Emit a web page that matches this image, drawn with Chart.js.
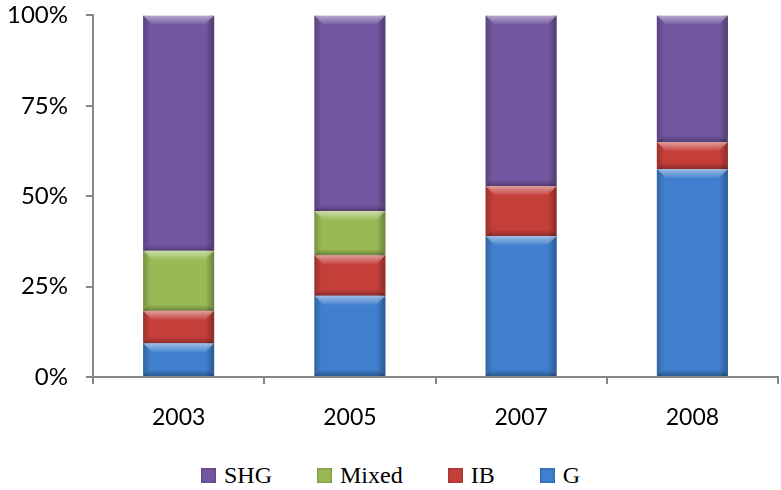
<!DOCTYPE html>
<html>
<head>
<meta charset="utf-8">
<script src="https://cdn.jsdelivr.net/npm/chart.js@4"></script>
<style>
  html, body { margin: 0; padding: 0; background: #fff; overflow: hidden; }
  #wrap { position: relative; width: 781px; height: 490px; overflow: hidden; }
  #box { position: absolute; left: 0; top: -17px; width: 781px; height: 457px; }
  #legend {
    position: absolute; left: 0; top: 462px; width: 781px; height: 26px;
    display: flex; justify-content: center; align-items: center; gap: 45px;
    font-family: "Liberation Serif", serif; font-size: 24px; color: #000;
  }
  #legend .item { display: flex; align-items: center; }
  #legend .sw { width: 15px; height: 15px; margin-right: 8px; box-shadow: inset 0 0 3px rgba(0,0,0,0.35); }
</style>
</head>
<body>
<div id="wrap">
  <div id="box"><canvas id="chart"></canvas></div>
  <div id="legend"></div>
</div>
<script>
const categories = ['2003', '2005', '2007', '2008'];
const gValues = [9.3, 22.5, 39.0, 57.5];
const ibValues = [9.0, 11.2, 13.8, 7.5];
const mixedValues = [16.6, 12.2, 0, 0];
const shgValues = [65.1, 54.1, 47.2, 35.0];
const yTicks = [0, 25, 50, 75, 100];

const axisGrey = '#868686';

// flat fill colours, the bevel is painted on top by the plugin below
const seriesColors = {
    G: '#3F7FCD',
    IB: '#C43E3A',
    Mixed: '#98B954',
    SHG: '#7256A0'
};

// give every bar segment a soft bevel like an office chart
const bevel = {
    id: 'bevel',
    afterDatasetsDraw(chart) {
        const ctx = chart.ctx;
        chart.data.datasets.forEach((ds, i) => {
            const meta = chart.getDatasetMeta(i);
            if (meta.hidden) return;
            meta.data.forEach(bar => {
                const p = bar.getProps(['x', 'y', 'base', 'width'], true);
                const left = p.x - p.width / 2;
                const right = p.x + p.width / 2;
                const top = Math.min(p.y, p.base);
                const bottom = Math.max(p.y, p.base);
                const h = bottom - top;
                if (h < 1) return;
                const b = Math.min(9, h / 3);
                ctx.save();

                let g = ctx.createLinearGradient(left, 0, right, 0);
                g.addColorStop(0, 'rgba(0,0,0,0.22)');
                g.addColorStop(0.1, 'rgba(0,0,0,0)');
                g.addColorStop(0.88, 'rgba(0,0,0,0)');
                g.addColorStop(1, 'rgba(0,0,0,0.3)');
                ctx.fillStyle = g;
                ctx.fillRect(left, top, p.width, h);

                g = ctx.createLinearGradient(0, top, 0, top + b);
                g.addColorStop(0, 'rgba(255,255,255,0.5)');
                g.addColorStop(1, 'rgba(255,255,255,0.05)');
                ctx.fillStyle = g;
                ctx.beginPath();
                ctx.moveTo(left, top);
                ctx.lineTo(right, top);
                ctx.lineTo(right - b, top + b);
                ctx.lineTo(left + b, top + b);
                ctx.closePath();
                ctx.fill();

                g = ctx.createLinearGradient(0, bottom - b * 0.7, 0, bottom);
                g.addColorStop(0, 'rgba(0,0,0,0)');
                g.addColorStop(1, 'rgba(0,0,0,0.28)');
                ctx.fillStyle = g;
                ctx.beginPath();
                ctx.moveTo(left, bottom);
                ctx.lineTo(right, bottom);
                ctx.lineTo(right - b * 0.7, bottom - b * 0.7);
                ctx.lineTo(left + b * 0.7, bottom - b * 0.7);
                ctx.closePath();
                ctx.fill();

                ctx.restore();
            });
        });
    }
};

function makeSet(label, values) {
    return {
        label: label,
        data: values,
        backgroundColor: seriesColors[label],
        borderWidth: 0,
        categoryPercentage: 1,
        barPercentage: 0.415
    };
}

const chart = new Chart(document.getElementById('chart'), {
    type: 'bar',
    data: {
        labels: categories,
        datasets: [
            makeSet('G', gValues),
            makeSet('IB', ibValues),
            makeSet('Mixed', mixedValues),
            makeSet('SHG', shgValues)
        ]
    },
    options: {
        responsive: true,
        maintainAspectRatio: false,
        animation: false,
        layout: { padding: { top: 0, right: 3, bottom: 0, left: 0 } },
        plugins: {
            legend: { display: false },
            tooltip: { enabled: false }
        },
        scales: {
            x: {
                stacked: true,
                border: { color: axisGrey, width: 2 },
                grid: { color: axisGrey, lineWidth: 2, drawOnChartArea: false, tickLength: 7 },
                ticks: { color: '#000', padding: 20, font: { family: 'Lato', size: 23 } },
                afterFit: s => { s.height = 63; }
            },
            y: {
                stacked: true,
                min: 0,
                max: 100,
                border: { color: axisGrey, width: 2 },
                grid: { color: axisGrey, lineWidth: 2, drawOnChartArea: false, tickLength: 7 },
                afterBuildTicks: s => { s.ticks = yTicks.map(v => ({ value: v })); },
                ticks: {
                    color: '#000',
                    padding: 18,
                    font: { family: 'Lato', size: 24 },
                    callback: v => v + '%'
                },
                afterFit: s => { s.width = 93; }
            }
        }
    },
    plugins: [bevel]
});

// legend below the chart, series listed top of stack first
const legend = document.getElementById('legend');
chart.data.datasets.slice().reverse().forEach(ds => {
    const item = document.createElement('div');
    item.className = 'item';
    const sw = document.createElement('span');
    sw.className = 'sw';
    sw.style.background = ds.backgroundColor;
    const txt = document.createElement('span');
    txt.textContent = ds.label;
    item.appendChild(sw);
    item.appendChild(txt);
    legend.appendChild(item);
});
</script>
</body>
</html>
